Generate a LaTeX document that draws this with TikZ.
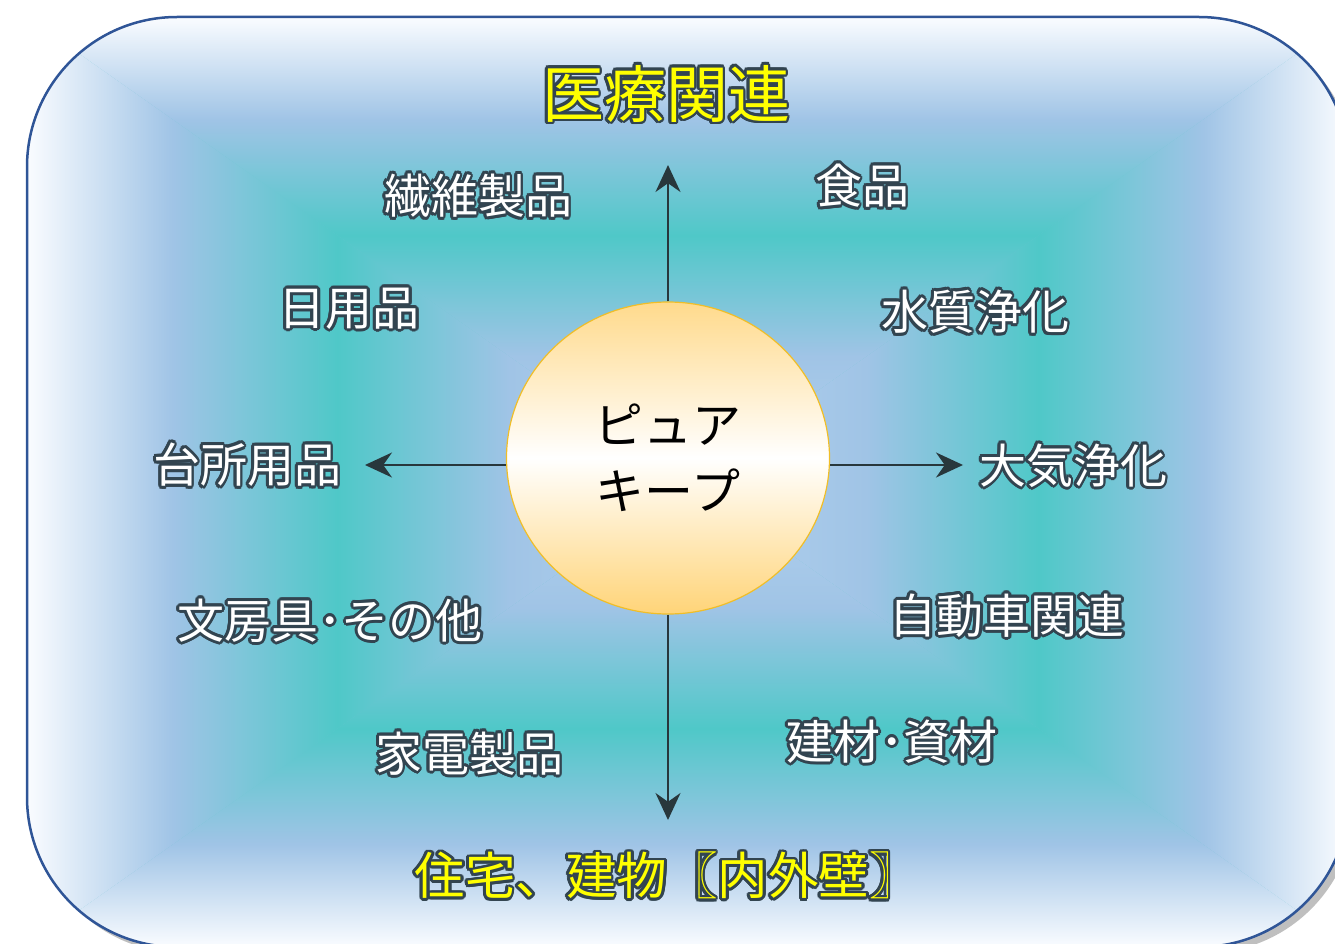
\documentclass[tikz,border=0pt]{standalone}
\usepackage{fontspec}
\usepackage[copies]{contour}
\newfontfamily\jpfont{Noto Sans CJK JP}
\usetikzlibrary{shadows,shapes.geometric,arrows.meta}

\definecolor{framec}{RGB}{47,85,151}
\definecolor{bgwhite}{RGB}{250,252,255}
\definecolor{bgblue}{RGB}{160,196,230}
\definecolor{bgteal}{RGB}{79,200,200}
\definecolor{bgcenter}{RGB}{180,210,238}
\definecolor{glowc}{RGB}{50,68,80}
\definecolor{fieldc}{RGB}{255,255,0}
\definecolor{ringc}{RGB}{240,190,40}
\definecolor{suntop}{RGB}{255,218,140}
\definecolor{sunbot}{RGB}{255,212,120}
\definecolor{linkc}{RGB}{40,55,60}

\contourlength{2.8pt}

% 25bp = centre of the frame, 75bp = its border
\pgfdeclareverticalshading{bgfade}{100bp}{color(0bp)=(bgcenter); color(25bp)=(bgcenter);
  color(38.5bp)=(bgblue); color(51.5bp)=(bgteal); color(64bp)=(bgblue);
  color(75bp)=(bgwhite); color(100bp)=(bgwhite)}

\tikzset{
  usage/.style={font=\jpfont\fontsize{47}{56}\selectfont, text=white, inner sep=0pt},
  field/.style={font=\jpfont\fontsize{62}{70}\selectfont, text=fieldc, inner sep=0pt},
  link/.style={draw=linkc, line width=1.8pt, -{Stealth[length=27pt,width=25pt]}}
}

\begin{document}
\begin{tikzpicture}[x=1pt,y=-1pt]
	\useasboundingbox (0,0) rectangle (1335,944);
	
	% Frame with its shadow and rectangular gradient
	\path[rounded corners=150, drop shadow={shadow xshift=6pt, shadow yshift=-6pt, opacity=0.5}]
		(27,17) rectangle (1349,947);
	\begin{scope}
		\clip[rounded corners=150] (27,17) rectangle (1349,947);
		\fill[bgteal!60!bgblue] (27,17) rectangle (1349,947);
		\shade[shading=bgfade] (27,17) -- (1349,17) -- (688,482) -- cycle;
		\shade[shading=bgfade, shading angle=180] (27,947) -- (1349,947) -- (688,482) -- cycle;
		\shade[shading=bgfade, shading angle=90] (27,17) -- (27,947) -- (688,482) -- cycle;
		\shade[shading=bgfade, shading angle=-90] (1349,17) -- (1349,947) -- (688,482) -- cycle;
	\end{scope}
	\draw[framec, line width=2.5pt, rounded corners=150] (27,17) rectangle (1349,947);
	
	% Centre
	\node[ellipse, minimum width=323pt, minimum height=312pt, draw=ringc, line width=1.2pt,
		top color=suntop, bottom color=sunbot, middle color=white,
		font=\jpfont\fontsize{49}{66}\selectfont, align=center] (pure) at (668,458) {ピュア\\キープ};
	
	% Arrows
	\coordinate (toup) at (668,165);
	\coordinate (todown) at (668,820);
	\coordinate (toleft) at (365,465);
	\coordinate (toright) at (963,465);
	\draw[link] (pure.north) -- (toup);
	\draw[link] (pure.south) -- (todown);
	\draw[link] (pure.west |- toleft) -- (toleft);
	\draw[link] (pure.east |- toright) -- (toright);
	
	% Fields
	\node[field] (medical) at (666,95) {\contour{glowc}{医療関連}};
	\node[field, font=\jpfont\fontsize{50.5}{58}\selectfont] (housing) at (667,877) {\contour{glowc}{住宅、建物〖内外壁〗}};
	
	% Uses
	\node[usage] (fiber) at (478,197) {\contour{glowc}{繊維製品}};
	\node[usage] (food) at (862,187) {\contour{glowc}{食品}};
	\node[usage] (daily) at (349,310) {\contour{glowc}{日用品}};
	\node[usage] (water) at (975,313) {\contour{glowc}{水質浄化}};
	\node[usage] (kitchen) at (247,466) {\contour{glowc}{台所用品}};
	\node[usage] (air) at (1073,467) {\contour{glowc}{大気浄化}};
	\node[usage] (station) at (330,622) {\contour{glowc}{文房具･その他}};
	\node[usage] (car) at (1007,617) {\contour{glowc}{自動車関連}};
	\node[usage] (appliance) at (469,755) {\contour{glowc}{家電製品}};
	\node[usage] (building) at (892,743) {\contour{glowc}{建材･資材}};
	
\end{tikzpicture}
\end{document}
